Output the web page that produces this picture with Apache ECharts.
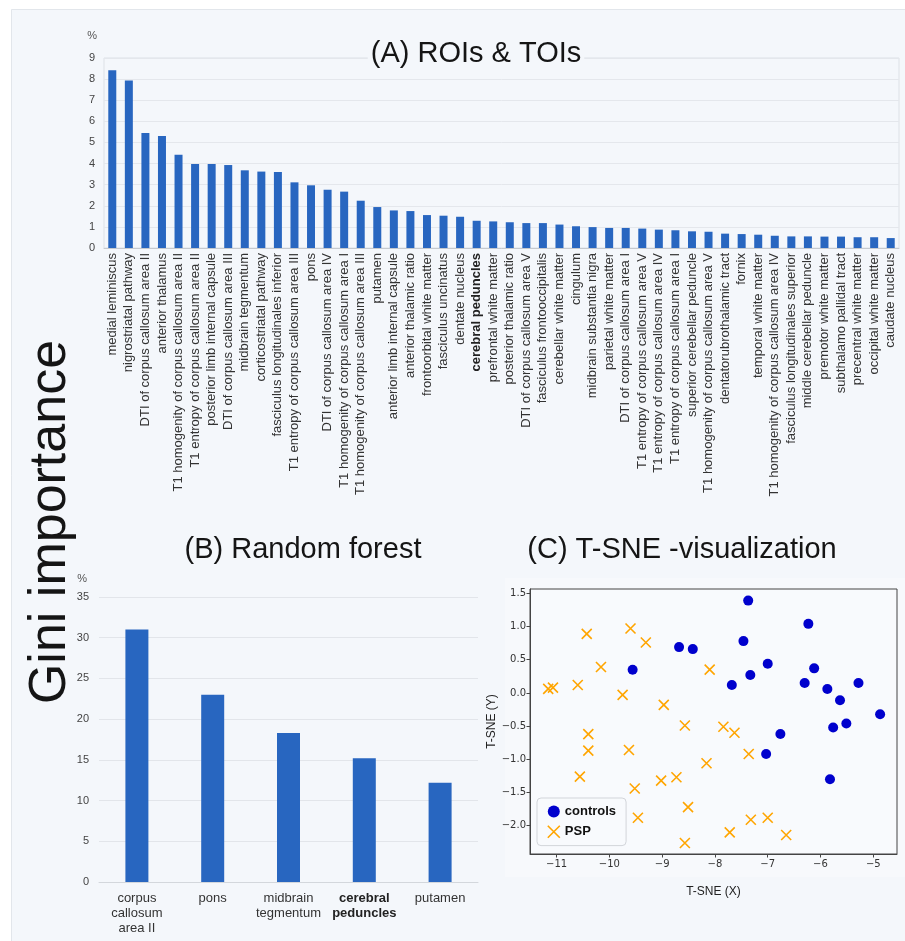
<!DOCTYPE html>
<html>
<head>
<meta charset="utf-8">
<script src="https://cdn.jsdelivr.net/npm/echarts@6/dist/echarts.min.js"></script>
<style>
html, body { margin: 0; padding: 0; background: #fff; }
#chart { width: 905px; height: 941px; }
</style>
</head>
<body>
<div id="chart"></div>
<script>
// (A) ROIs & TOIs
const regions = [
    'medial leminiscus', 'nigrostriatal pathway', 'DTI of corpus callosum area II', 'anterior thalamus',
    'T1 homogenity of corpus callosum area II', 'T1 entropy of corpus callosum area II', 'posterior limb internal capsule',
    'DTI of corpus callosum area III', 'midbrain tegmentum', 'corticostriatal pathway', 'fasciculus longitudinales inferior',
    'T1 entropy of corpus callosum area III', 'pons', 'DTI of corpus callosum area IV', 'T1 homogenity of corpus callosum area I',
    'T1 homogenity of corpus callosum area III', 'putamen', 'anterior limb internal capsule', 'anterior thalamic ratio',
    'frontoorbital white matter', 'fasciculus uncinatus', 'dentate nucleus', 'cerebral peduncles', 'prefrontal white matter',
    'posterior thalamic ratio', 'DTI of corpus callosum area V', 'fasciculus frontooccipitalis', 'cerebellar white matter',
    'cingulum', 'midbrain substantia nigra', 'parietal white matter', 'DTI of corpus callosum area I',
    'T1 entropy of corpus callosum area V', 'T1 entropy of corpus callosum area IV', 'T1 entropy of corpus callosum area I',
    'superior cerebellar peduncle', 'T1 homogenity of corpus callosum area V', 'dentatorubrothalamic tract', 'fornix',
    'temporal white matter', 'T1 homogenity of corpus callosum area IV', 'fasciculus longitudinales superior',
    'middle cerebellar peduncle', 'premotor white matter', 'subthalamo pallidal tract', 'precentral white matter',
    'occipital white matter', 'caudate nucleus'
];
const regionGini = [
    8.42, 7.93, 5.45, 5.31, 4.42, 3.98, 3.98, 3.93, 3.68, 3.62, 3.60, 3.11, 2.97, 2.76, 2.67, 2.24,
    1.94, 1.78, 1.75, 1.56, 1.53, 1.48, 1.29, 1.26, 1.22, 1.18, 1.18, 1.11, 1.03, 0.99, 0.95, 0.95,
    0.92, 0.87, 0.84, 0.79, 0.77, 0.68, 0.66, 0.63, 0.58, 0.55, 0.55, 0.54, 0.54, 0.51, 0.51, 0.47
];

// (B) Random forest
const forestLabels = ['corpus\ncallosum\narea II', 'pons', 'midbrain\ntegmentum', 'cerebral\npeduncles', 'putamen'];
const forestGini = [31.0, 23.0, 18.3, 15.2, 12.2];

// (C) T-SNE
const controlsX = [-9.56, -8.68, -8.42, -7.46, -7.37, -7.00, -7.33, -7.68, -6.23, -6.12, -6.30, -5.87, -5.28, -5.63, -4.87, -5.76, -5.51, -6.76, -7.03, -5.82];
const controlsY = [0.35, 0.69, 0.66, 0.78, 1.39, 0.44, 0.27, 0.12, 1.04, 0.37, 0.15, 0.06, 0.15, -0.11, -0.32, -0.52, -0.46, -0.62, -0.92, -1.30];
const pspX = [-11.16, -11.07, -10.43, -10.60, -10.16, -9.60, -9.31, -9.75, -8.97, -10.40, -10.40, -9.63, -10.56, -9.52, -9.02,
    -8.73, -9.46, -8.57, -8.10, -7.84, -7.63, -7.36, -8.16, -8.51, -8.57, -7.72, -7.32, -7.00, -6.65];
const pspY = [0.06, 0.08, 0.89, 0.12, 0.39, 0.97, 0.76, -0.03, -0.18, -0.62, -0.87, -0.86, -1.26, -1.44, -1.32,
    -1.27, -1.88, -0.49, 0.35, -0.51, -0.60, -0.92, -1.06, -1.72, -2.26, -2.10, -1.91, -1.88, -2.14];
const tsneXTicks = [-11, -10, -9, -8, -7, -6, -5];
const tsneYTicks = [-2, -1.5, -1, -0.5, 0, 0.5, 1, 1.5];

const BLUE = '#2866c0';
const BG = '#f4f7fb';
const FONT = '"Liberation Sans", Arial, sans-serif';
const minus = s => String(s).replace('-', '\u2212');

const chart = echarts.init(document.getElementById('chart'));

function heading(text, x, y, size, rotation) {
    return {
        type: 'text', x: x, y: y, z: 10, rotation: rotation || 0,
        style: {
            text: text, fontSize: size, fontFamily: FONT, fill: '#151515',
            align: 'center', verticalAlign: 'middle', textAlign: 'center', textVerticalAlign: 'middle',
            backgroundColor: BG, padding: [0, 3]
        }
    };
}

chart.setOption({
    backgroundColor: BG,
    textStyle: { fontFamily: FONT },
    animation: false,
    graphic: [
        { type: 'rect', z: -5, shape: { x: 0, y: 0, width: 905, height: 9 }, style: { fill: '#fff' } },
        { type: 'rect', z: -5, shape: { x: 0, y: 0, width: 11, height: 941 }, style: { fill: '#fff' } },
        { type: 'polyline', z: -4, shape: { points: [[11.5, 941], [11.5, 9.5], [905, 9.5]] }, style: { stroke: '#e2e6eb', fill: null, lineWidth: 1 } },
        { type: 'rect', z: -3, shape: { x: 505, y: 578, width: 400, height: 299 }, style: { fill: '#f7f9fc' } },
        heading('(A) ROIs & TOIs', 476, 54, 29),
        heading('(B) Random forest', 303, 550, 29),
        heading('(C) T-SNE -visualization', 682, 550, 29),
        heading('Gini importance', 51, 522, 52, Math.PI / 2)
    ],
    grid: [
        { left: 104, top: 58, width: 795, height: 190, show: true, borderColor: '#dde1e6', borderWidth: 1, backgroundColor: 'transparent' },
        { left: 99, top: 597, width: 379, height: 285 },
        { left: 530, top: 589, width: 367, height: 265, show: true, borderColor: '#444', borderWidth: 1, backgroundColor: '#f8fafd' }
    ],
    legend: {
        left: 537, top: 798, orient: 'vertical',
        padding: [7, 10], itemGap: 7, itemWidth: 12, itemHeight: 12,
        backgroundColor: '#f8fafd', borderColor: '#d2d5da', borderWidth: 1, borderRadius: 4,
        textStyle: { fontSize: 13, fontWeight: 'bold', color: '#111' },
        data: [
            { name: 'controls', icon: 'circle' },
            { name: 'PSP', icon: 'path://M0,0L10,10M10,0L0,10', itemStyle: { color: 'rgba(0,0,0,0)', borderColor: '#ffa500', borderWidth: 1.6 } }
        ]
    },
    xAxis: [
        {
            gridIndex: 0, type: 'category', data: regions,
            axisLine: { lineStyle: { color: '#c5c9cf' } },
            axisTick: { show: false },
            axisLabel: {
                interval: 0, rotate: 90, fontSize: 13, color: '#333', margin: 5,
                formatter: v => v === 'cerebral peduncles' ? '{b|' + v + '}' : v,
                rich: { b: { fontWeight: 'bold', fontSize: 13, color: '#222' } }
            }
        },
        {
            gridIndex: 1, type: 'category', data: forestLabels,
            axisLine: { lineStyle: { color: '#d3d7dc' } },
            axisTick: { show: false },
            axisLabel: {
                interval: 0, fontSize: 13, lineHeight: 15, color: '#333', margin: 9,
                formatter: v => v === 'cerebral\npeduncles' ? '{b|cerebral}\n{b|peduncles}' : v,
                rich: { b: { fontWeight: 'bold', fontSize: 13, lineHeight: 15, color: '#222' } }
            }
        },
        {
            gridIndex: 2, type: 'value', min: -11.505, max: -4.55,
            axisLine: { show: true, onZero: false, lineStyle: { color: '#444' } },
            axisTick: { show: true, customValues: tsneXTicks, length: 3.5, lineStyle: { color: '#444' } },
            axisLabel: { customValues: tsneXTicks, fontSize: 10, fontFamily: '"DejaVu Sans"', color: '#333', margin: 5, formatter: minus },
            splitLine: { show: false },
            name: 'T-SNE (X)', nameLocation: 'middle', nameGap: 32,
            nameTextStyle: { fontSize: 12, color: '#222' }
        }
    ],
    yAxis: [
        {
            gridIndex: 0, type: 'value', min: 0, max: 9, interval: 1,
            name: '%', nameLocation: 'end', nameGap: 17,
            nameTextStyle: { align: 'right', fontSize: 11, color: '#555', padding: [0, 7, 0, 0] },
            axisLine: { show: false }, axisTick: { show: false },
            axisLabel: { fontSize: 11, color: '#444', margin: 9 },
            splitLine: { lineStyle: { color: '#e4e7ec' } }
        },
        {
            gridIndex: 1, type: 'value', min: 0, max: 35, interval: 5,
            name: '%', nameLocation: 'end', nameGap: 13,
            nameTextStyle: { align: 'right', fontSize: 11, color: '#555', padding: [0, 12, 0, 0] },
            axisLine: { show: false }, axisTick: { show: false },
            axisLabel: { fontSize: 11, color: '#444', margin: 10 },
            splitLine: { lineStyle: { color: '#e2e5ea' } }
        },
        {
            gridIndex: 2, type: 'value', min: -2.426, max: 1.565,
            axisLine: { show: true, onZero: false, lineStyle: { color: '#444' } },
            axisTick: { show: true, customValues: tsneYTicks, length: 3.5, lineStyle: { color: '#444' } },
            axisLabel: { customValues: tsneYTicks, fontSize: 10, fontFamily: '"DejaVu Sans"', color: '#333', margin: 4, formatter: v => minus(v.toFixed(1)) },
            splitLine: { show: false },
            name: 'T-SNE (Y)', nameLocation: 'middle', nameGap: 31, nameRotate: 90,
            nameTextStyle: { fontSize: 12, color: '#222' }
        }
    ],
    series: [
        {
            type: 'bar', xAxisIndex: 0, yAxisIndex: 0, data: regionGini,
            barWidth: 8, itemStyle: { color: BLUE }
        },
        {
            type: 'bar', xAxisIndex: 1, yAxisIndex: 1, data: forestGini,
            barWidth: 23, itemStyle: { color: BLUE }
        },
        {
            name: 'controls', type: 'scatter', xAxisIndex: 2, yAxisIndex: 2,
            data: controlsX.map((x, i) => [x, controlsY[i]]),
            symbol: 'circle', symbolSize: 10,
            itemStyle: { color: '#0000cd', opacity: 1 }
        },
        {
            name: 'PSP', type: 'scatter', xAxisIndex: 2, yAxisIndex: 2,
            data: pspX.map((x, i) => [x, pspY[i]]),
            symbol: 'path://M0,0L10,10M10,0L0,10', symbolSize: 10,
            itemStyle: { color: 'rgba(0,0,0,0)', borderColor: '#ffa500', borderWidth: 1.6, opacity: 1 }
        }
    ]
});
</script>
</body>
</html>
